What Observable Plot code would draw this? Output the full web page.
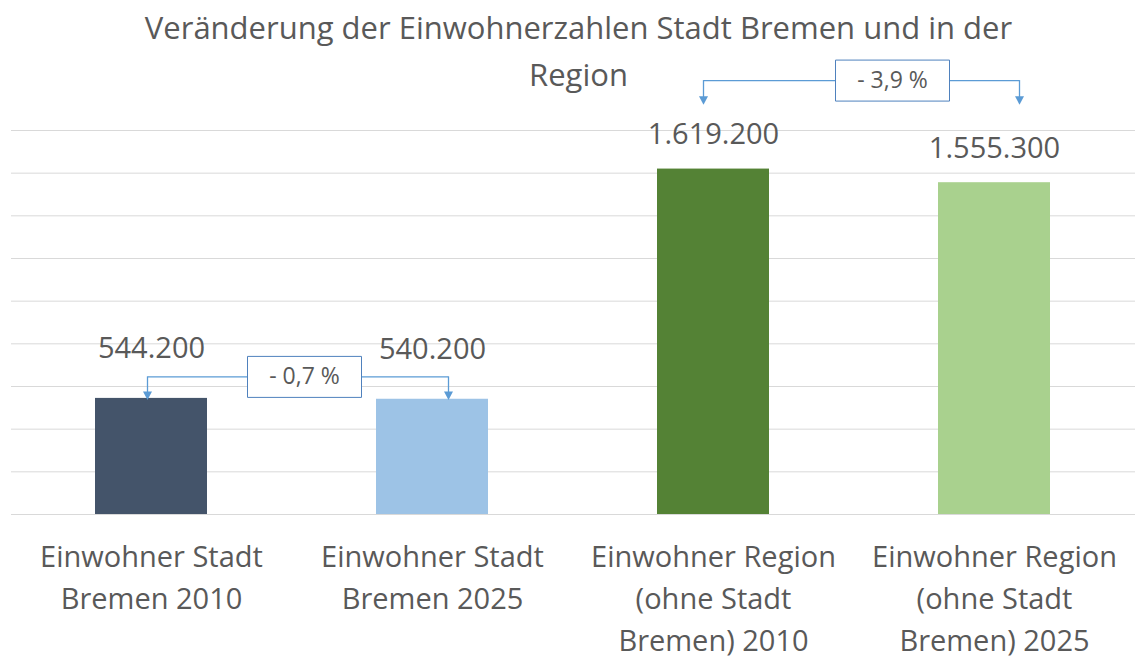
<!DOCTYPE html>
<html>
<head>
<meta charset="utf-8">
<script src="https://cdn.jsdelivr.net/npm/d3@7"></script>
<script src="https://cdn.jsdelivr.net/npm/@observablehq/plot@0.6"></script>
<style>
  html, body { margin: 0; padding: 0; background: #ffffff; }
  #chart svg { display: block; }
</style>
</head>
<body>
<div id="chart"></div>
<script>
// ---- Data ----
const titleLines = ["Veränderung der Einwohnerzahlen Stadt Bremen und in der", "Region"];
const categories = [
  "Einwohner Stadt Bremen 2010",
  "Einwohner Stadt Bremen 2025",
  "Einwohner Region (ohne Stadt Bremen) 2010",
  "Einwohner Region (ohne Stadt Bremen) 2025"
];
const categoryLabels = [
  "Einwohner Stadt\nBremen 2010",
  "Einwohner Stadt\nBremen 2025",
  "Einwohner Region\n(ohne Stadt\nBremen) 2010",
  "Einwohner Region\n(ohne Stadt\nBremen) 2025"
];
const groups = ["Stadt", "Stadt", "Region", "Region"];
const values = [544200, 540200, 1619200, 1555300];
const barColors = ["#44546a", "#9dc3e6", "#548235", "#a9d18e"];
const gridValues = [0, 200000, 400000, 600000, 800000, 1000000, 1200000, 1400000, 1600000, 1800000];
const changeFrom = ["Einwohner Stadt Bremen 2010", "Einwohner Region (ohne Stadt Bremen) 2010"];
const changeTo = ["Einwohner Stadt Bremen 2025", "Einwohner Region (ohne Stadt Bremen) 2025"];
const changeLabels = ["- 0,7 %", "- 3,9 %"];

// ---- Build ----
const de = d3.formatLocale({decimal: ",", thousands: ".", grouping: [3], currency: ["", " €"]});
const fmt = de.format(",");

const rows = categories.map((c, i) => ({
  category: c, label: categoryLabels[i], group: groups[i], value: values[i], color: barColors[i]
}));

const textColor = "#595959";
const lineColor = "#5b9bd5";

// annotation brackets (levels in data units, offsets in px)
const annot = [
  {from: changeFrom[0], to: changeTo[0], label: changeLabels[0], level: 645000, tip: 556000, dxFrom: -4, dxTo: 16, dxBox: 153},
  {from: changeFrom[1], to: changeTo[1], label: changeLabels[1], level: 2034000, tip: 1940000, dxFrom: -10, dxTo: 25, dxBox: 179}
];

const boxSymbol = {
  draw(ctx) { ctx.moveTo(-57, -20.5); ctx.lineTo(57, -20.5); ctx.lineTo(57, 20.5); ctx.lineTo(-57, 20.5); ctx.closePath(); }
};
const downTriangle = {
  draw(ctx) { ctx.moveTo(-4.5, -4.5); ctx.lineTo(4.5, -4.5); ctx.lineTo(0, 4); ctx.closePath(); }
};

const chart = Plot.plot({
  width: 1135,
  height: 659,
  marginTop: 130,
  marginBottom: 145,
  marginLeft: 11,
  marginRight: 0,
  style: {fontFamily: "'Open Sans', sans-serif", background: "#ffffff", overflow: "visible", color: textColor},
  x: {domain: categories, paddingInner: 0.6, paddingOuter: 0.3, axis: null},
  y: {domain: [0, 1800000], axis: null},
  color: {type: "identity"},
  marks: [
    Plot.ruleY(gridValues, {stroke: "#d9d9d9", strokeWidth: 1}),
    Plot.barY(rows, {x: "category", y: "value", fill: "color"}),
    Plot.text(rows.filter(d => d.group === "Stadt"), {x: "category", y: "value", text: d => fmt(d.value), dy: -50, fontSize: 29, fill: textColor}),
    Plot.text(rows.filter(d => d.group === "Region"), {x: "category", y: "value", text: d => fmt(d.value), dy: -34, fontSize: 29, fill: textColor}),
    Plot.text(rows, {x: "category", text: "label", frameAnchor: "bottom", lineAnchor: "top", dy: 23, fontSize: 29, lineHeight: 1.45, fill: textColor}),
    Plot.text([titleLines.join("\n")], {frameAnchor: "top", lineAnchor: "top", dy: -125, dx: 5, fontSize: 31, lineHeight: 1.52, fill: textColor}),
    ...annot.flatMap(a => [
      Plot.link([a], {x1: "from", x2: "to", y1: "level", y2: "level", stroke: lineColor, strokeWidth: 1.3,
        render: (index, scales, values, dims, context, next) => {
          const g = next(index, scales, values, dims, context);
          const x1 = values.x1[0] + a.dxFrom;
          const x2 = values.x2[0] + a.dxTo;
          const y = values.y1[0];
          d3.select(g).selectAll("path").attr("d", `M${x1},${y}H${x2}`);
          return g;
        }
      }),
      Plot.ruleX([a], {x: "from", y1: "level", y2: "tip", stroke: lineColor, strokeWidth: 1.3, dx: a.dxFrom}),
      Plot.ruleX([a], {x: "to", y1: "level", y2: "tip", stroke: lineColor, strokeWidth: 1.3, dx: a.dxTo}),
      Plot.dot([a], {x: "from", y: "tip", symbol: downTriangle, fill: lineColor, stroke: "none", dx: a.dxFrom}),
      Plot.dot([a], {x: "to", y: "tip", symbol: downTriangle, fill: lineColor, stroke: "none", dx: a.dxTo}),
      Plot.dot([a], {x: "from", y: "level", symbol: boxSymbol, fill: "#ffffff", stroke: "#4f81bd", strokeWidth: 1, dx: a.dxBox}),
      Plot.text([a], {x: "from", y: "level", text: "label", fontSize: 23, fill: textColor, dx: a.dxBox})
    ])
  ]
});

document.getElementById("chart").appendChild(chart);
</script>
</body>
</html>
